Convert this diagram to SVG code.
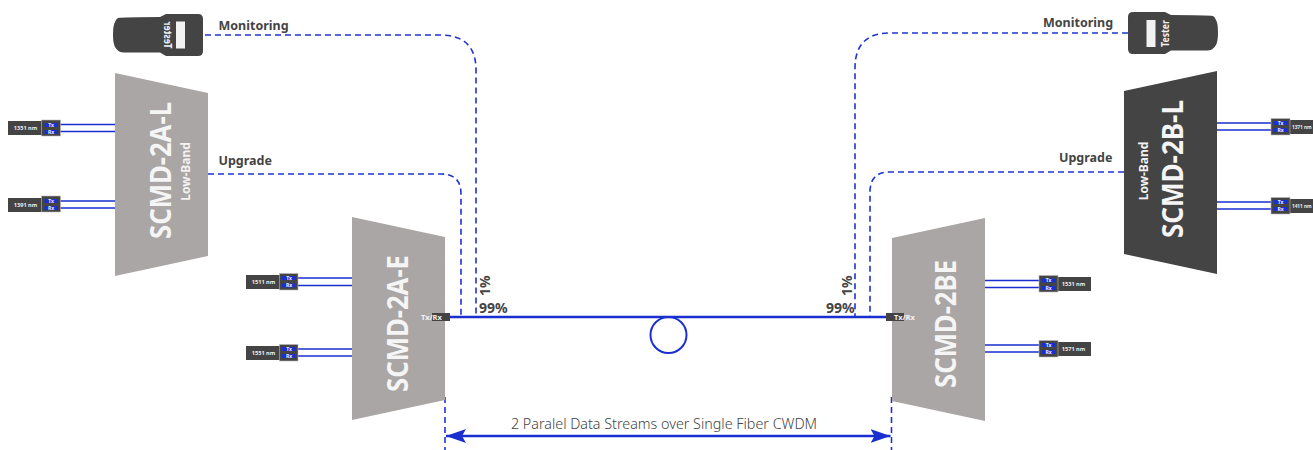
<svg xmlns="http://www.w3.org/2000/svg" width="1313" height="450" viewBox="0 0 1313 450">
<style>
text{font-family:"Noto Sans","Open Sans","Liberation Sans",sans-serif}
.lt{fill:#aaa6a5}.dk{fill:#444}
.big{font-size:28.500px;font-weight:700;fill:#f5f5f5;text-anchor:middle}
.band{font-size:12px;font-weight:700;fill:#f2f2f2;text-anchor:middle}
.lab{font-size:12.500px;font-weight:700;fill:#444}
.pct{font-size:14px;font-weight:700;fill:#444}
.nm{font-size:5.600px;font-weight:700;fill:#eee;text-anchor:middle}
.ne{font-size:4.700px;font-weight:700;fill:#eee}
.trx{font-size:5px;font-weight:700;fill:#eee;text-anchor:middle}
.box{fill:#444;stroke:#bbb;stroke-width:.6}
.blue{fill:#1a2fd0}
.f{fill:none;stroke:#1a2fd0;stroke-width:1.700}
.d{fill:none;stroke:#1f34d2;stroke-width:1.600;stroke-dasharray:6 4}
.m{fill:none;stroke:#1a2fd0;stroke-width:2.500}
.tp{font-size:7.500px;font-weight:700;fill:#f2f2f2}
.ts{font-size:10px;font-weight:700;fill:#f2f2f2;text-anchor:middle}
</style>
<defs>
<marker id="ah" viewBox="0 0 20 14" refX="20" refY="7" markerWidth="20" markerHeight="14" markerUnits="userSpaceOnUse" orient="auto-start-reverse"><path d="M0 0L20 7L0 14L4 7Z" fill="#1a2fd0"/></marker>
</defs>
<g id="connectors">
<path class="d" d="M205 35H440Q476 35 476 70V316"/>
<path class="d" d="M208 174H441Q461 174 461 194V316"/>
<path class="d" d="M1128 33H890Q855 33 855 68V316"/>
<path class="d" d="M1124 172H890Q870 172 870 192V316"/>
<path class="m" d="M450 317H887"/>
<circle class="m" cx="668.500" cy="335" r="18" style="stroke-width:2"/>
<path class="d" d="M445 397V450M891.500 397V450"/>
<path class="m" d="M446 436H890.500" marker-start="url(#ah)" marker-end="url(#ah)"/>
<path class="f" d="M60 124.500H115M60 131.500H115M60 201H115M60 208H115M298 278H352M298 285.500H352M298 349H352M298 356H352M985 280.500H1039M985 287.500H1039M985 345H1039M985 352H1039M1217 123H1271M1217 130H1271M1217 202H1271M1217 209H1271"/>
</g>
<g id="tester-left">
<path class="dk" d="M118 18Q124 17 160 17L166 14H198Q203 14 203 19V51Q203 56 198 56H166L160 52.500H124Q118 52.500 115 47Q113 43 113 35Q113 25 115 22Q116 19 118 18Z"/>
<rect x="176" y="21.500" width="9" height="27" fill="#f2f2f2"/>
<text transform="translate(163.500 35) scale(-1 1) rotate(-90)" class="ts" textLength="27" lengthAdjust="spacingAndGlyphs">Tester</text>
</g>
<g id="tester-right">
<path class="dk" d="M1213 16Q1207 15 1171 15L1165 12H1133Q1128 12 1128 17V49Q1128 54 1133 54H1165L1171 50.500H1207Q1213 50.500 1216 45Q1218 41 1218 33Q1218 23 1216 20Q1215 17 1213 16Z"/>
<rect x="1146.500" y="20" width="9" height="27" fill="#f2f2f2"/>
<text transform="translate(1168.500 33.500) rotate(-90)" class="ts" textLength="27" lengthAdjust="spacingAndGlyphs">Tester</text>
</g>
<g id="scmd-2a-l">
<path class="lt" d="M115 73L208 93V256L115 276Z"/>
<text class="big" transform="translate(171 170.500) rotate(-90)" textLength="137" lengthAdjust="spacingAndGlyphs">SCMD-2A-L</text>
<text class="band" transform="translate(189.500 171.500) rotate(-90)">Low-Band</text>
</g>
<g id="scmd-2a-e">
<path class="lt" d="M352 217L445 237V400L352 420Z"/>
<text class="big" transform="translate(408 323.500) rotate(-90)" textLength="137" lengthAdjust="spacingAndGlyphs">SCMD-2A-E</text>
<rect class="dk" x="432" y="313" width="18" height="8"/>
<text class="tp" x="421" y="320">Tx/Rx</text>
</g>
<g id="scmd-2be">
<path class="lt" d="M892 238L985 218V421L892 401Z"/>
<text class="big" transform="translate(955.500 324) rotate(-90)" textLength="128" lengthAdjust="spacingAndGlyphs">SCMD-2BE</text>
<rect class="dk" x="886" y="313" width="18" height="8"/>
<text class="tp" x="894" y="320">Tx/Rx</text>
</g>
<g id="scmd-2b-l">
<path class="dk" d="M1124 91L1217 71V274L1124 254Z"/>
<text class="big" transform="translate(1183 169) rotate(-90)" textLength="138" lengthAdjust="spacingAndGlyphs">SCMD-2B-L</text>
<text class="band" transform="translate(1147.500 171) rotate(-90)">Low-Band</text>
</g>
<g id="port-1351">
<rect class="dk" x="8" y="121" width="34" height="14"/><rect class="box" x="41.500" y="120" width="19" height="16"/>
<rect class="blue" x="44.500" y="123" width="13.500" height="4"/><rect class="blue" x="44.500" y="130" width="13.500" height="4"/>
<text class="trx" x="51" y="126.800">Tx</text><text class="trx" x="51" y="133.800">Rx</text>
<text class="nm" x="25.500" y="130">1351 nm</text>
</g>
<g id="port-1391">
<rect class="dk" x="8" y="198" width="34" height="14"/><rect class="box" x="41.500" y="196" width="19" height="16"/>
<rect class="blue" x="44.500" y="199" width="13.500" height="4"/><rect class="blue" x="44.500" y="206" width="13.500" height="4"/>
<text class="trx" x="51" y="202.800">Tx</text><text class="trx" x="51" y="209.800">Rx</text>
<text class="nm" x="25.500" y="207">1391 nm</text>
</g>
<g id="port-1511">
<rect class="dk" x="246" y="275" width="34" height="14"/><rect class="box" x="279.500" y="273.500" width="18.500" height="16.500"/>
<rect class="blue" x="282" y="276" width="13.500" height="4"/><rect class="blue" x="282" y="283.500" width="13.500" height="4"/>
<text class="trx" x="289" y="279.800">Tx</text><text class="trx" x="289" y="287.300">Rx</text>
<text class="nm" x="263.500" y="284">1511 nm</text>
</g>
<g id="port-1551">
<rect class="dk" x="246" y="346" width="34" height="14"/><rect class="box" x="279.500" y="344.500" width="18.500" height="16.500"/>
<rect class="blue" x="282" y="347" width="13.500" height="4"/><rect class="blue" x="282" y="354" width="13.500" height="4"/>
<text class="trx" x="289" y="350.800">Tx</text><text class="trx" x="289" y="357.800">Rx</text>
<text class="nm" x="263.500" y="355">1551 nm</text>
</g>
<g id="port-1531">
<rect class="dk" x="1057" y="277" width="34" height="14"/><rect class="box" x="1039" y="275.500" width="19" height="16.500"/>
<rect class="blue" x="1042" y="278.500" width="13.500" height="4"/><rect class="blue" x="1042" y="286" width="13.500" height="4"/>
<text class="trx" x="1048.500" y="282.300">Tx</text><text class="trx" x="1048.500" y="289.800">Rx</text>
<text class="nm" x="1073.500" y="286">1531 nm</text>
</g>
<g id="port-1571">
<rect class="dk" x="1057" y="342" width="34" height="14"/><rect class="box" x="1039" y="340.500" width="19" height="16.500"/>
<rect class="blue" x="1042" y="343" width="13.500" height="4"/><rect class="blue" x="1042" y="350" width="13.500" height="4"/>
<text class="trx" x="1048.500" y="346.800">Tx</text><text class="trx" x="1048.500" y="353.800">Rx</text>
<text class="nm" x="1073.500" y="351">1571 nm</text>
</g>
<g id="port-1371">
<rect class="dk" x="1289" y="120" width="24" height="14"/><rect class="box" x="1271" y="118.500" width="19" height="16.500"/>
<rect class="blue" x="1274" y="121" width="13.500" height="4"/><rect class="blue" x="1274" y="128" width="13.500" height="4"/>
<text class="trx" x="1280.500" y="124.800">Tx</text><text class="trx" x="1280.500" y="131.800">Rx</text>
<text class="ne" x="1292" y="129">1371 nm</text>
</g>
<g id="port-1411">
<rect class="dk" x="1289" y="199" width="24" height="14"/><rect class="box" x="1271" y="197.500" width="19" height="16.500"/>
<rect class="blue" x="1274" y="200" width="13.500" height="4"/><rect class="blue" x="1274" y="207" width="13.500" height="4"/>
<text class="trx" x="1280.500" y="203.800">Tx</text><text class="trx" x="1280.500" y="210.800">Rx</text>
<text class="ne" x="1292" y="208">1411 nm</text>
</g>
<g id="labels">
<text class="lab" x="218.500" y="30">Monitoring</text>
<text class="lab" x="218.500" y="165">Upgrade</text>
<text class="lab" x="1043" y="27">Monitoring</text>
<text class="lab" x="1059" y="162">Upgrade</text>
<text class="pct" transform="translate(490 296) rotate(-90)">1%</text>
<text class="pct" x="479" y="313">99%</text>
<text class="pct" transform="translate(852 296) rotate(-90)">1%</text>
<text class="pct" x="826" y="313">99%</text>
<text x="664" y="429" text-anchor="middle" style="font-size:14.300px;fill:#444;font-weight:300">2 Paralel Data Streams over Single Fiber CWDM</text>
</g>
</svg>
